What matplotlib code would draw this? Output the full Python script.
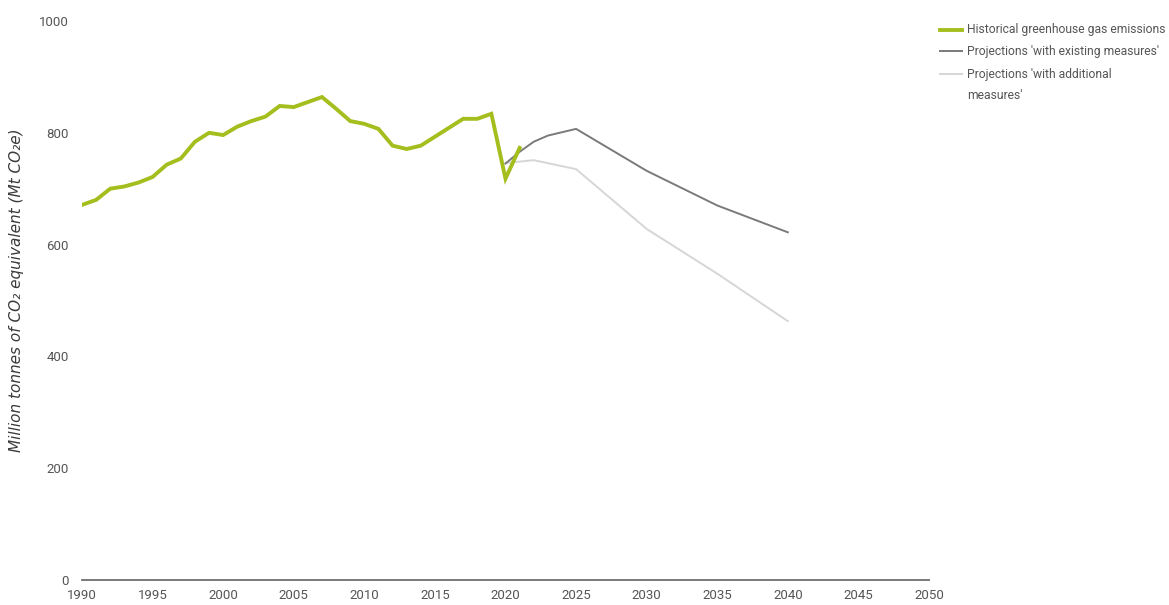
import matplotlib
matplotlib.use("Agg")
import matplotlib.pyplot as plt
from matplotlib.lines import Line2D

hist_years = list(range(1990, 2022))
hist_values = [671, 680, 700, 704, 711, 721, 743, 754, 784, 800, 796, 811, 821, 829,
               848, 846, 855, 864, 843, 821, 816, 807, 777, 771, 777, 793, 809, 825,
               825, 834, 718, 773]

wem_years = [2020, 2021, 2022, 2023, 2024, 2025, 2030, 2035, 2040]
wem_values = [745, 766, 784, 795, 801, 807, 732, 670, 622]

wam_years = [2020, 2022, 2025, 2030, 2035, 2040]
wam_values = [746, 751, 735, 628, 548, 463]

x_ticks = [1990, 1995, 2000, 2005, 2010, 2015, 2020, 2025, 2030, 2035, 2040, 2045, 2050]
y_ticks = [0, 200, 400, 600, 800, 1000]

labels = ["Historical greenhouse gas emissions",
          "Projections 'with existing measures'",
          "Projections 'with additional\nmeasures'"]

TXT = "#555555"
GREEN = "#a5be1e"
DARK = "#7a7a7a"
LIGHT = "#d6d6d6"

plt.rcParams['font.family'] = ['Roboto', 'DejaVu Sans']

fig = plt.figure(figsize=(11.69, 6.05), dpi=100)
W, H = 1169, 605
ax = fig.add_axes([82 / W, 1 - 580 / H, (929 - 82) / W, (580 - 21) / H])

ax.plot(wam_years, wam_values, color=LIGHT, lw=1.4, zorder=2)
ax.plot(wem_years, wem_values, color=DARK, lw=1.4, zorder=3)
ax.plot(hist_years, hist_values, color=GREEN, lw=2.8, zorder=4, solid_joinstyle='miter')

ax.set_xlim(1990, 2050)
ax.set_ylim(0, 1000)
ax.set_xticks(x_ticks)
ax.set_yticks(y_ticks)
ax.tick_params(axis='both', length=0, labelsize=9.5, labelcolor=TXT)
ax.tick_params(axis='y', pad=9.4)
ax.tick_params(axis='x', pad=6.5)
for s in ['top', 'right', 'left']:
    ax.spines[s].set_visible(False)
ax.spines['bottom'].set_color('#6e6e6e')
ax.spines['bottom'].set_linewidth(1.3)
ax.spines['bottom'].set_clip_on(False)

fig.text(17 / W, 1 - 290 / H, "Million tonnes of CO₂ equivalent (Mt CO₂e)",
         rotation=90, ha='center', va='center', fontsize=11, style='italic',
         color='#3a3a3a', family=['DejaVu Sans'])

# legend drawn in figure pixel coordinates
def fx(px):
    return px / W

def fy(py):
    return 1 - py / H

leg_handles = [(GREEN, 2.8, 30), (DARK, 1.4, 51), (LIGHT, 1.4, 74)]
for (c, lw, py) in leg_handles:
    fig.add_artist(Line2D([fx(940), fx(962)], [fy(py), fy(py)], color=c, lw=lw,
                          transform=fig.transFigure))
LFS = 8.7
fig.text(fx(967), fy(30), labels[0], ha='left', va='center', fontsize=LFS, color=TXT)
fig.text(fx(967), fy(51), labels[1], ha='left', va='center', fontsize=LFS, color=TXT)
fig.text(fx(967), fy(85), labels[2], ha='left', va='center', fontsize=LFS, color=TXT,
         linespacing=1.75)

fig.savefig("out.png", dpi=100, facecolor='white')
